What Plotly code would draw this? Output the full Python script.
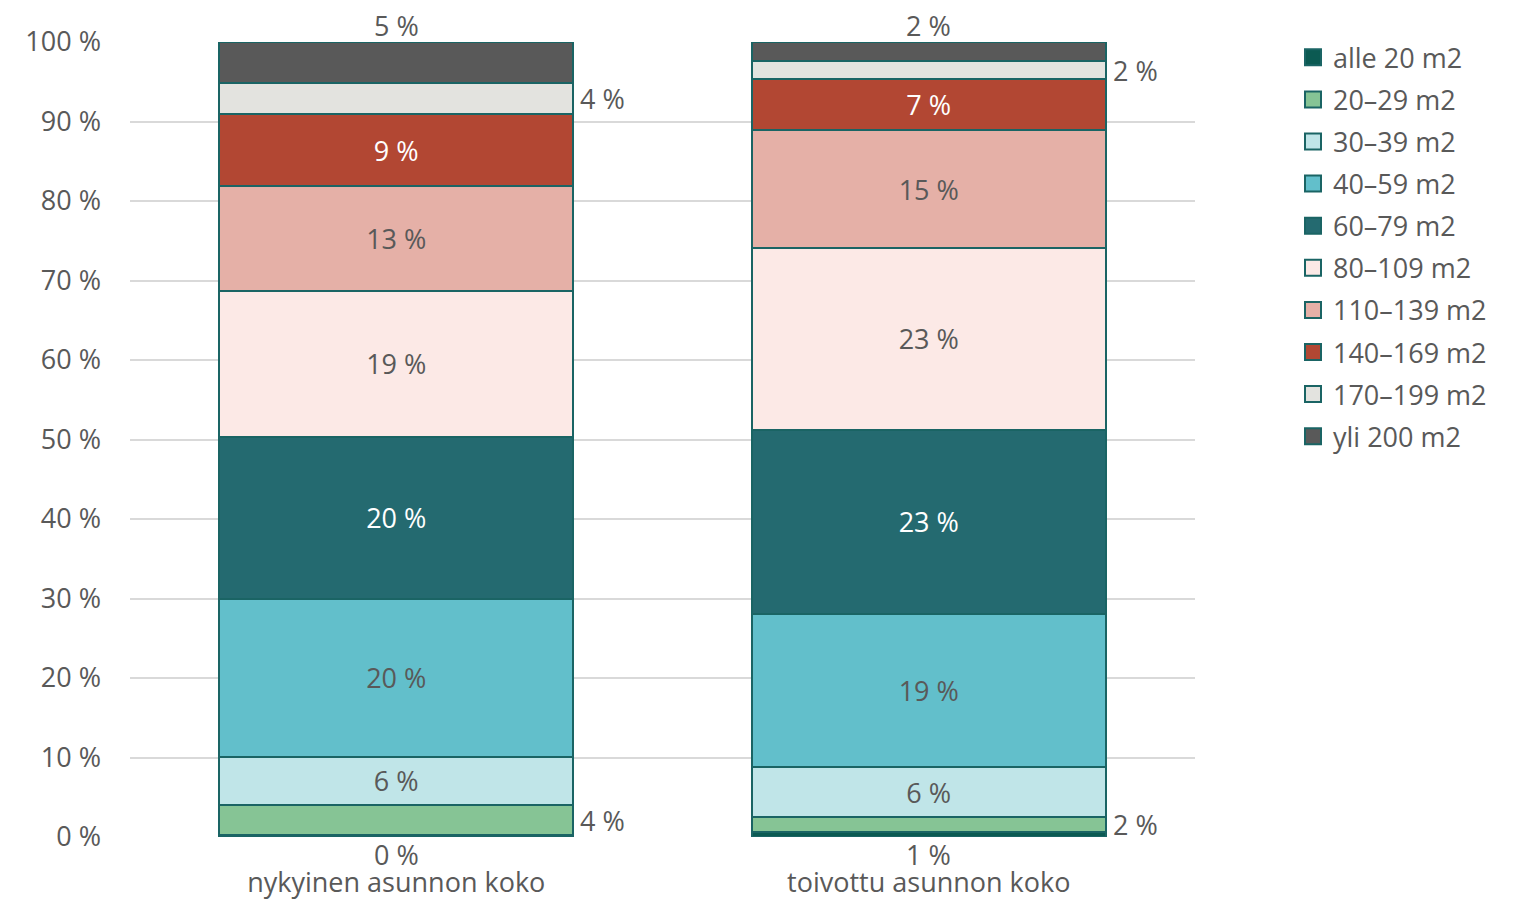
import plotly.graph_objects as go

categories = ["nykyinen asunnon koko", "toivottu asunnon koko"]
series_names = ["alle 20 m2", "20–29 m2", "30–39 m2", "40–59 m2", "60–79 m2",
                "80–109 m2", "110–139 m2", "140–169 m2", "170–199 m2", "yli 200 m2"]
# share of respondents (%) per size class, for [nykyinen, toivottu]
values = {
    "alle 20 m2":  [0.2, 0.6],
    "20–29 m2":    [3.8, 1.9],
    "30–39 m2":    [6.1, 6.3],
    "40–59 m2":    [19.9, 19.3],
    "60–79 m2":    [20.3, 23.1],
    "80–109 m2":   [18.4, 22.9],
    "110–139 m2":  [13.2, 14.8],
    "140–169 m2":  [9.0, 6.4],
    "170–199 m2":  [4.0, 2.3],
    "yli 200 m2":  [5.1, 2.4],
}
# data labels as printed on the chart
labels = {
    "alle 20 m2":  [0, 1],
    "20–29 m2":    [4, 2],
    "30–39 m2":    [6, 6],
    "40–59 m2":    [20, 19],
    "60–79 m2":    [20, 23],
    "80–109 m2":   [19, 23],
    "110–139 m2":  [13, 15],
    "140–169 m2":  [9, 7],
    "170–199 m2":  [4, 2],
    "yli 200 m2":  [5, 2],
}
y_ticks = [0, 10, 20, 30, 40, 50, 60, 70, 80, 90, 100]

colors = ["#0b5a52", "#86c495", "#c0e5e8", "#62bfcb", "#246a70",
          "#fce9e6", "#e5b0a7", "#b24733", "#e3e3df", "#595959"]
text_colors = ["#595959", "#595959", "#595959", "#595959", "#ffffff",
               "#595959", "#595959", "#ffffff", "#595959", "#ffffff"]
FONT = "Open Sans"
FS = 27
GRAY = "#595959"
EDGE = "#1a6464"
BAR_W = 0.665

fig = go.Figure()
annotations = []
cum = [0.0, 0.0]
last = len(series_names) - 1
for i, name in enumerate(series_names):
    vals = values[name]
    txt = []
    for j, v in enumerate(vals):
        lab = f"{labels[name][j]} %"
        afont = dict(family=FONT, size=FS, color=GRAY)
        if i == 0:
            txt.append("")
            annotations.append(dict(x=j, y=0, xref="x", yref="y", text=lab,
                                    showarrow=False, yanchor="middle", yshift=-17,
                                    font=afont))
        elif i == last:
            txt.append("")
            annotations.append(dict(x=j, y=cum[j] + v, xref="x", yref="y", text=lab,
                                    showarrow=False, yanchor="middle", yshift=17,
                                    font=afont))
        elif v < 5:
            txt.append("")
            annotations.append(dict(x=j + BAR_W / 2, y=cum[j] + v / 2, xref="x", yref="y",
                                    text=lab, showarrow=False, xanchor="left", xshift=5,
                                    font=afont))
        else:
            txt.append(lab)
        cum[j] += v
    fig.add_trace(go.Bar(
        x=categories, y=vals, name=name, text=txt,
        textposition="inside", insidetextanchor="middle",
        textfont=dict(family=FONT, size=FS, color=text_colors[i]),
        marker=dict(color=colors[i], line=dict(color=EDGE, width=2)),
        width=BAR_W, showlegend=False, cliponaxis=False,
        hoverinfo="skip",
    ))

# legend entries (square swatches)
for i, name in enumerate(series_names):
    fig.add_trace(go.Scatter(
        x=[None], y=[None], mode="markers", name=name,
        marker=dict(symbol="square", size=16, color=colors[i],
                    line=dict(color=EDGE, width=2)),
        legendgroup=name, hoverinfo="skip",
    ))

# the page body adds an 8px offset; compensate so the plot area sits at x 130-1195, y 42-837
fig.update_layout(
    barmode="stack",
    width=1529, height=899,
    margin=dict(l=122, r=342, t=34, b=70, autoexpand=False),
    paper_bgcolor="white", plot_bgcolor="white",
    font=dict(family=FONT, size=FS, color=GRAY),
    uniformtext=dict(minsize=8, mode=False),
    showlegend=True,
    legend=dict(x=1.092, xanchor="left", y=1.011, yanchor="top",
                traceorder="grouped", tracegroupgap=4,
                font=dict(family=FONT, size=FS, color=GRAY),
                itemwidth=30, itemsizing="trace", bgcolor="rgba(0,0,0,0)"),
    annotations=annotations,
)
fig.update_yaxes(range=[0, 100], tickvals=y_ticks,
                 ticktext=[f"{t} %" for t in y_ticks],
                 showgrid=True, gridcolor="#d9d9d9", gridwidth=2,
                 zeroline=False, showline=False, ticks="", ticklabelstandoff=28,
                 automargin=False,
                 tickfont=dict(family=FONT, size=FS, color=GRAY))
fig.update_xaxes(showgrid=False, showline=False, ticks="", ticklabelstandoff=27,
                 automargin=False,
                 tickfont=dict(family=FONT, size=FS, color=GRAY))

fig.write_html("out.html")
